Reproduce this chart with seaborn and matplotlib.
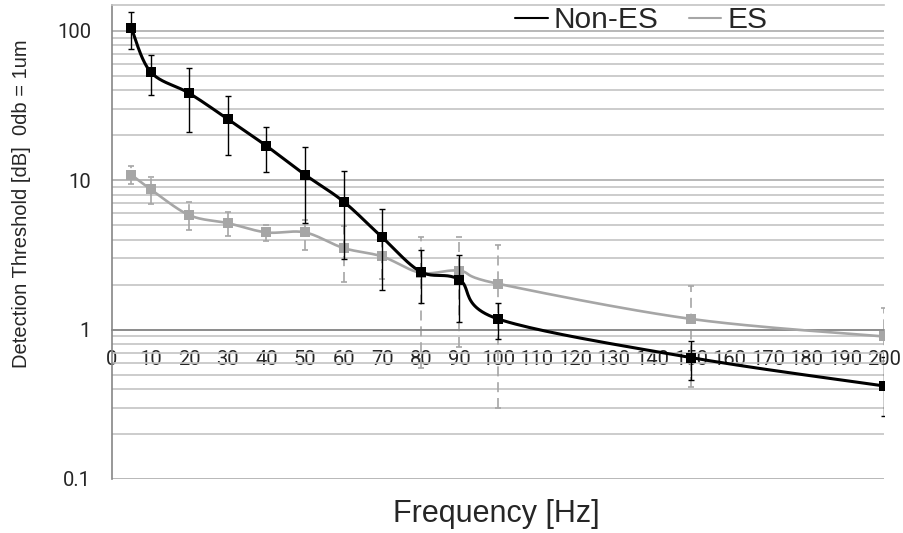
import numpy as np
import pandas as pd
import matplotlib
matplotlib.use('Agg')
import matplotlib.pyplot as plt
import seaborn as sns
from matplotlib.lines import Line2D
from matplotlib.ticker import LogLocator, FixedLocator, NullFormatter, FuncFormatter

# values
freq = [5, 10, 20, 30, 40, 50, 60, 70, 80, 90, 100, 150, 200]
x_ticks = list(range(0, 201, 10))
y_ticks = [0.1, 1, 10, 100]
y_labels = ['0.1', '1', '10', '100']

non_es = [105, 53.2, 38.3, 25.7, 17.0, 10.9, 7.2, 4.15, 2.44, 2.16, 1.18, 0.65, 0.42]
non_es_hi = [134, 69.4, 56.3, 36.6, 22.6, 16.7, 11.5, 6.45, 3.42, 3.16, 1.51, 0.844, 0.66]
non_es_lo = [76, 37.1, 21.0, 14.7, 11.4, 5.2, 2.97, 1.83, 1.52, 1.12, 0.87, 0.463, 0.263]

es = [10.9, 8.73, 5.85, 5.17, 4.48, 4.48, 3.52, 3.09, 2.40, 2.48, 2.03, 1.18, 0.90]
es_hi = [12.4, 10.6, 7.11, 6.09, 5.06, 5.44, 4.97, 4.3, 4.2, 4.15, 3.7, 1.95, 1.4]
es_lo = [9.48, 6.93, 4.66, 4.27, 3.92, 3.43, 2.10, 2.2, 0.55, 0.77, 0.30, 0.414, 0.62]

BLACK = '#000000'
GREY = '#a6a6a6'

sns.set_style('white')
plt.rcParams['font.family'] = ['Liberation Sans', 'DejaVu Sans']


def smooth(ax, x, y, n=24):
    # Excel-style smoothed line: cubic bezier through the points, in pixel space
    pts = ax.transData.transform(np.column_stack([x, y]))
    P = np.vstack([pts[0], pts, pts[-1]])
    segs = []
    t = np.linspace(0, 1, n)[:, None]
    for i in range(1, len(P) - 2):
        p0, p1, p2, p3 = P[i - 1], P[i], P[i + 1], P[i + 2]
        c1 = p1 + (p2 - p0) / 6
        c2 = p2 - (p3 - p1) / 6
        segs.append((1 - t) ** 3 * p1 + 3 * (1 - t) ** 2 * t * c1
                    + 3 * (1 - t) * t ** 2 * c2 + t ** 3 * p2)
    curve = ax.transData.inverted().transform(np.vstack(segs))
    return curve[:, 0], curve[:, 1]


fig = plt.figure(figsize=(9.04, 5.33), dpi=100)
ax = fig.add_axes([112 / 904, 1 - 479 / 533, 772 / 904, 474.3 / 533])
ax.set_yscale('log')
ax.set_xlim(0, 200)
ax.set_ylim(0.1, 150)

# grid
ax.yaxis.set_major_locator(FixedLocator(y_ticks))
ax.yaxis.set_major_formatter(FuncFormatter(lambda v, p: y_labels[y_ticks.index(v)] if v in y_ticks else ''))
ax.yaxis.set_minor_locator(LogLocator(base=10, subs=range(2, 10)))
ax.yaxis.set_minor_formatter(NullFormatter())
ax.grid(False)
ax.yaxis.grid(True, which='major', color='#ababab', lw=1.2)
ax.yaxis.grid(True, which='minor', color='#c4c4c4', lw=1.2)

ax.spines['right'].set_visible(False)
ax.spines['top'].set_color('#c4c4c4')
ax.spines['top'].set_linewidth(1.2)
ax.spines['left'].set_color('#868686')
ax.spines['left'].set_linewidth(1.2)
ax.spines['bottom'].set_position(('data', 1))
ax.spines['bottom'].set_color('#868686')
ax.spines['bottom'].set_linewidth(1.2)

ax.set_xticks(x_ticks)
ax.tick_params(axis='x', direction='out', length=5, width=1, color='#868686',
               pad=10, labelsize=14.5, labelfontfamily='Roboto')
ax.tick_params(axis='y', which='major', direction='out', length=5, width=1,
               color='#868686', pad=10, labelsize=14.5, labelfontfamily='Roboto')
ax.tick_params(axis='y', which='minor', length=0)

# error bars
eb = ax.errorbar(freq, es, yerr=[np.array(es) - np.array(es_lo), np.array(es_hi) - np.array(es)],
                 fmt='none', ecolor=GREY, elinewidth=1.2, capsize=2.5, capthick=1.2, zorder=2)
eb[2][0].set_linestyle((0, (6, 3.5)))
ax.errorbar(freq, non_es, yerr=[np.array(non_es) - np.array(non_es_lo), np.array(non_es_hi) - np.array(non_es)],
            fmt='none', ecolor=BLACK, elinewidth=1.0, capsize=2.5, capthick=1.0, zorder=4)

# smoothed lines
sx, sy = smooth(ax, freq, es)
ax.plot(sx, sy, color=GREY, lw=1.9, zorder=3, solid_capstyle='round')
sx, sy = smooth(ax, freq, non_es)
ax.plot(sx, sy, color=BLACK, lw=2.2, zorder=5, solid_capstyle='round')

# markers
df = pd.DataFrame({'freq': freq * 2, 'value': es + non_es,
                   'group': ['ES'] * len(freq) + ['Non-ES'] * len(freq)})
sns.scatterplot(data=df[df.group == 'ES'], x='freq', y='value', color=GREY, marker='s',
                s=52, linewidth=0, legend=False, ax=ax, zorder=3.5)
sns.scatterplot(data=df[df.group == 'Non-ES'], x='freq', y='value', color=BLACK, marker='s',
                s=52, linewidth=0, legend=False, ax=ax, zorder=6)
ax.set_xlabel('')
ax.set_ylabel('')

handles = [Line2D([], [], color=BLACK, lw=1.5), Line2D([], [], color=GREY, lw=1.5)]
fig.legend(handles, ['Non-ES', 'ES'], loc='center left', bbox_to_anchor=(515 / 904, 1 - 20 / 533),
           ncol=2, frameon=False, fontsize=21.5, handlelength=1.1, handletextpad=0.2,
           columnspacing=1.0, borderpad=0, borderaxespad=0)

fig.text(22 / 904, 1 - 204 / 533, 'Detection Threshold [dB]  0db = 1um', rotation=90,
         ha='center', va='center', fontsize=14.5)
fig.text(496 / 904, 1 - 514 / 533, 'Frequency [Hz]', ha='center', va='center', fontsize=22)

fig.savefig('out.png', dpi=100)
